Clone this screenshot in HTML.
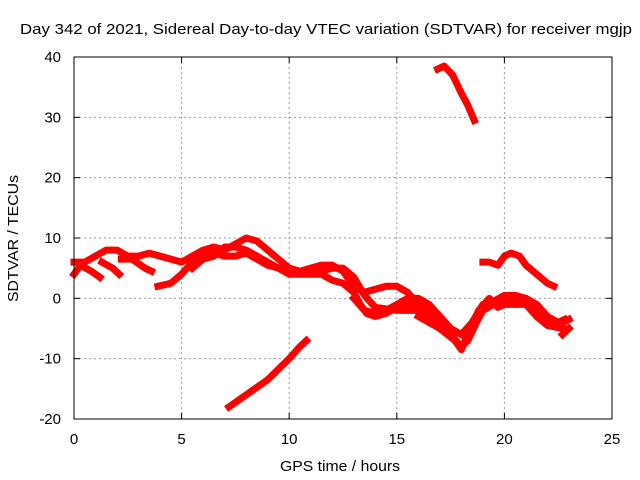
<!DOCTYPE html>
<html><head><meta charset="utf-8"><style>
body{margin:0;background:#fff}
svg{display:block;font-family:"Liberation Sans",sans-serif;font-size:15px}
</style></head><body>
<svg width="640" height="480" viewBox="0 0 640 480">
<rect width="640" height="480" fill="#fff"/>
<text x="20" y="34" textLength="612" lengthAdjust="spacingAndGlyphs">Day 342 of 2021, Sidereal Day-to-day VTEC variation (SDTVAR) for receiver mgjp</text>
<g id="grid"></g>
<g id="series"></g>
<g id="axes"></g>
<text x="280" y="471" textLength="120" lengthAdjust="spacingAndGlyphs">GPS time / hours</text>
<text transform="translate(18,302) rotate(-90)" textLength="127" lengthAdjust="spacingAndGlyphs">SDTVAR / TECUs</text>
</svg>
<script>
const xTicks=[0,5,10,15,20,25];
const yTicks=[-20,-10,0,10,20,30,40];
const trackA=[[0,6],[0.5,6],[1,7],[1.5,8],[2,8],[2.5,7],[3,7],[3.5,7.5],[4,7],[4.5,6.5],[5,6],[5.5,7],[6,8],[6.5,8.5],[7,8],[7.5,9],[8,10],[8.5,9.5],[9,8],[9.5,6.5],[10,5],[10.5,4.5],[11,5],[11.5,5.5],[12,5.5],[12.5,4.5],[13,2],[13.5,1],[14,1.5],[14.5,2],[15,2],[15.5,1],[16,-1],[17,-3],[17.5,-5],[18,-6]];
const trackB=[[0,4],[0.3,5.5],[0.8,4.5],[1.2,3.5]];
const trackB2=[[1.3,6],[1.8,5],[2.1,4]];
const trackB3=[[2.2,6.5],[2.7,6.5],[3.3,5],[3.6,4.5]];
const trackC=[[3.9,2],[4.5,2.5],[5,4],[5.5,6],[6,7],[6.5,7.5],[7,7],[7.5,7],[8,7.5],[8.5,6.5],[9,5.5],[9.5,5],[10,4],[10.5,4],[11,4],[11.5,4],[12,3],[12.5,2.5],[13,1],[13.3,-1],[13.6,-2.5],[14,-3],[14.5,-2.5],[15,-1.5],[15.5,-1],[16,-1.5],[16.5,-2.5],[17,-4],[17.5,-6],[18,-8],[18.3,-7],[18.7,-4],[19,-2],[19.5,-1],[20,0],[20.5,0],[21,0],[21.5,-1],[22,-3],[22.5,-4],[22.8,-3.5]];
const trackD=[[13,0],[13.5,-2],[14,-2.5],[14.5,-2],[15,-1],[15.5,0],[16,0],[16.5,-1],[17,-3],[17.5,-5],[18,-6],[18.5,-4],[19,-1],[19.5,-0.5],[20,0.5],[20.5,0.5],[21,0],[21.5,-2],[22,-4],[22.5,-4.5],[23,-3.5]];
const trackE=[[16,-3],[17,-5],[17.7,-7],[18,-8.5],[18.3,-6],[18.8,-2],[19.3,0],[19.7,-1.5],[20,-1],[20.5,-1],[21,-1],[21.5,-3],[22,-4.5],[22.7,-5]];
const trackF=[[19,6],[19.3,6],[19.7,5.5],[20,7],[20.3,7.5],[20.7,7],[21,5.5],[21.5,4],[22,2.5],[22.3,2]];
const trackG=[[16.9,38],[17.2,38.5],[17.6,37],[18,34],[18.3,32],[18.6,29.5]];
const trackH=[[7.2,-18],[8,-16],[9,-13.5],[10,-10],[10.5,-8],[10.8,-7]];
const trackI=[[22.7,-6],[23,-5]];
const trackK=[[5.5,5],[6,6.5],[6.5,7],[7,8.5],[7.5,8.5],[8,8],[8.5,7],[9,6],[9.5,5],[10,4.5],[11,4],[11.5,4.5],[12,5],[12.5,5],[13,3.5],[13.5,0.5],[14,-1.5],[15,-2],[16,-2],[17,-4],[17.5,-6]];
const tracks=[trackA,trackB,trackB2,trackB3,trackC,trackD,trackE,trackF,trackG,trackH,trackI,trackK];
const X0=74,X1=612,Y0=419,Y1=57;
const sx=v=>X0+(v-0)/25*(X1-X0);
const sy=v=>Y0-(v+20)/60*(Y0-Y1);
const NS='http://www.w3.org/2000/svg';
function mk(t,a,p){const e=document.createElementNS(NS,t);for(const k in a)e.setAttribute(k,a[k]);p.appendChild(e);return e;}
const grid=document.getElementById('grid'),axes=document.getElementById('axes'),ser=document.getElementById('series');
xTicks.forEach(t=>{
 if(t>0&&t<25){const g=mk('line',{x1:sx(t),x2:sx(t),y1:Y1,y2:Y0,stroke:'#999','stroke-dasharray':'2,3'},grid);
 
 }
 mk('line',{x1:sx(t),x2:sx(t),y1:Y0,y2:Y0-6,stroke:'#000'},axes);
 mk('line',{x1:sx(t),x2:sx(t),y1:Y1,y2:Y1+6,stroke:'#000'},axes);
 const l=mk('text',{x:sx(t),y:Y0+25,'text-anchor':'middle'},axes);l.textContent=t;
 
 
});
yTicks.forEach(t=>{
 if(t>-20&&t<40){const g=mk('line',{x1:X0,x2:X1,y1:sy(t),y2:sy(t),stroke:'#999','stroke-dasharray':'2,3'},grid);
 
 }
 mk('line',{x1:X0,x2:X0+6,y1:sy(t),y2:sy(t),stroke:'#000'},axes);
 mk('line',{x1:X1,x2:X1-6,y1:sy(t),y2:sy(t),stroke:'#000'},axes);
 const l=mk('text',{x:X0-13,y:sy(t)+5,'text-anchor':'end'},axes);l.textContent=t;
 
 
});
const b=mk('rect',{x:X0,y:Y1,width:X1-X0,height:Y0-Y1,fill:'none',stroke:'#000'},axes);


tracks.forEach(tr=>{
 const p=mk('polyline',{points:tr.map(d=>sx(d[0])+','+sy(d[1])).join(' '),fill:'none',stroke:'#f00','stroke-width':7,'stroke-linejoin':'round','stroke-linecap':'square'},ser);
 
 
});
</script>
</body></html>
